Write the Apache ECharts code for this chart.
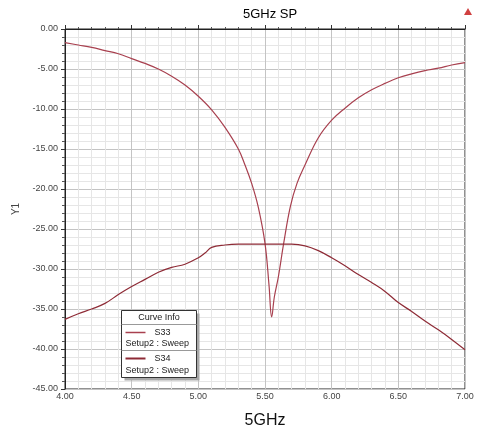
<!DOCTYPE html>
<html><head><meta charset="utf-8">
<script src="https://cdn.jsdelivr.net/npm/echarts@6/dist/echarts.min.js"></script>
<style>html,body{margin:0;padding:0;background:#fff}#c{width:477px;height:434px}</style>
</head><body><div id="c"></div>
<script>
var freqS33 = [4.00,4.10,4.20,4.30,4.40,4.50,4.60,4.70,4.80,4.90,5.00,5.10,5.20,5.30,5.35,5.40,5.45,5.50,5.53,5.55,5.57,5.60,5.64,5.69,5.74,5.80,5.90,6.00,6.10,6.20,6.30,6.40,6.50,6.60,6.70,6.80,6.90,7.00];
var s33 = [-1.7,-2.0,-2.3,-2.7,-3.1,-3.7,-4.3,-5.0,-5.9,-7.0,-8.4,-10.1,-12.3,-15.0,-17.0,-19.3,-22.3,-26.8,-32.0,-36.0,-33.5,-31.0,-26.8,-22.2,-19.3,-17.0,-13.6,-11.4,-9.9,-8.6,-7.6,-6.8,-6.1,-5.6,-5.2,-4.9,-4.5,-4.2];
var freqS34 = [4.00,4.10,4.20,4.30,4.40,4.50,4.60,4.70,4.80,4.90,5.00,5.05,5.10,5.20,5.30,5.50,5.70,5.80,5.90,6.00,6.10,6.20,6.30,6.40,6.50,6.60,6.70,6.80,6.90,7.00];
var s34 = [-36.3,-35.6,-35.0,-34.3,-33.2,-32.2,-31.3,-30.4,-29.8,-29.4,-28.6,-28.0,-27.3,-27.0,-26.9,-26.9,-26.9,-27.1,-27.7,-28.6,-29.6,-30.7,-31.7,-32.8,-34.2,-35.3,-36.5,-37.6,-38.8,-40.1];
var seriesNames = ['S33','S34'];
var sweepLabel = 'Setup2 : Sweep';
var titleText = '5GHz SP';
var xName = '5GHz';
var yName = 'Y1';

function pairs(xs, ys){ return xs.map(function(x,i){ return [x, ys[i]]; }); }
var font = 'Liberation Sans, Arial, sans-serif';
var chart = echarts.init(document.getElementById('c'));
chart.setOption({
  backgroundColor: '#fff',
  animation: false,
  title: { text: titleText, left: 265, top: 3, textAlign: 'center',
    textStyle: { fontFamily: font, fontSize: 13, fontWeight: 'normal', color: '#000' } },
  grid: { left: 65, right: 12, top: 29, bottom: 45, show: true, borderColor: '#222', borderWidth: 1, backgroundColor: '#fff' },
  xAxis: {
    type: 'value', min: 4, max: 7, interval: 0.5,
    name: xName, nameLocation: 'middle', nameGap: 24,
    nameTextStyle: { fontFamily: font, fontSize: 16, color: '#111' },
    axisLine: { lineStyle: { color: '#222' } },
    axisTick: { inside: true, length: 4, lineStyle: { color: '#333' } },
    minorTick: { show: true, splitNumber: 5, length: 2, lineStyle: { color: '#555' } },
    axisLabel: { formatter: function(v){ return v.toFixed(2); }, fontFamily: font, fontSize: 9, color: '#444', margin: 3 },
    splitLine: { show: true, lineStyle: { color: '#c4c4c4', width: 1 } },
    minorSplitLine: { show: true, lineStyle: { color: '#e6e6e6', width: 1 } }
  },
  yAxis: {
    type: 'value', min: -45, max: 0, interval: 5,
    name: yName, nameLocation: 'middle', nameGap: 44, nameRotate: 90,
    nameTextStyle: { fontFamily: font, fontSize: 10, color: '#444' },
    axisLine: { show: true, lineStyle: { color: '#222' } },
    axisTick: { show: true, length: 4, lineStyle: { color: '#333' } },
    minorTick: { show: true, splitNumber: 5, length: 3, lineStyle: { color: '#555' } },
    axisLabel: { formatter: function(v){ return v.toFixed(2); }, fontFamily: font, fontSize: 9, color: '#444', margin: 7 },
    splitLine: { show: true, lineStyle: { color: '#c4c4c4', width: 1 } },
    minorSplitLine: { show: true, lineStyle: { color: '#e6e6e6', width: 1 } }
  },
  series: [
    { name: seriesNames[0], type: 'line', data: pairs(freqS33, s33), showSymbol: false, smooth: 0.4,
      lineStyle: { color: '#a8404f', width: 1.2 }, itemStyle: { color: '#a8404f' } },
    { name: seriesNames[1], type: 'line', data: pairs(freqS34, s34), showSymbol: false, smooth: 0.4,
      lineStyle: { color: '#8e2b36', width: 1.2 }, itemStyle: { color: '#8e2b36' } }
  ],
  graphic: [
    { type: 'polygon', z: 100, shape: { points: [[468,8],[464,15],[472,15]] }, style: { fill: '#d04040' }, silent: true },
    { type: 'group', left: 119, top: 310, z: 100, children: [
      { type: 'rect', z: 100, shape: { x: 3, y: 3, width: 75, height: 67 }, style: { fill: '#a8a8a8' } },
      { type: 'rect', z: 101, shape: { x: 0, y: 0, width: 75, height: 67 }, style: { fill: '#fff', stroke: '#333', lineWidth: 1 } },
      { type: 'text', z: 102, x: 37.5, y: 7, style: { text: 'Curve Info', font: '9px ' + font, fill: '#222', align: 'center', verticalAlign: 'middle' } },
      { type: 'line', z: 102, shape: { x1: 0, y1: 14, x2: 75, y2: 14 }, style: { stroke: '#999', lineWidth: 1 } },
      { type: 'line', z: 102, shape: { x1: 4, y1: 22, x2: 24, y2: 22 }, style: { stroke: '#a8404f', lineWidth: 1.5 } },
      { type: 'text', z: 102, x: 33, y: 22, style: { text: seriesNames[0], font: '9px ' + font, fill: '#222', verticalAlign: 'middle' } },
      { type: 'text', z: 102, x: 4, y: 33, style: { text: sweepLabel, font: '9px ' + font, fill: '#222', verticalAlign: 'middle' } },
      { type: 'line', z: 102, shape: { x1: 0, y1: 40, x2: 75, y2: 40 }, style: { stroke: '#999', lineWidth: 1 } },
      { type: 'line', z: 102, shape: { x1: 4, y1: 48, x2: 24, y2: 48 }, style: { stroke: '#8e2b36', lineWidth: 2 } },
      { type: 'text', z: 102, x: 33, y: 48, style: { text: seriesNames[1], font: '9px ' + font, fill: '#222', verticalAlign: 'middle' } },
      { type: 'text', z: 102, x: 4, y: 60, style: { text: sweepLabel, font: '9px ' + font, fill: '#222', verticalAlign: 'middle' } }
    ] }
  ]
});
</script></body></html>
